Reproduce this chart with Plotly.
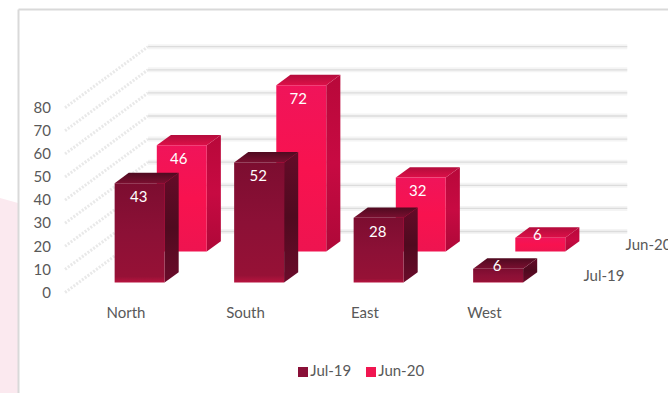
import plotly.graph_objects as go

# Chart data
regions = ["North", "South", "East", "West"]
series_names = ["Jul-19", "Jun-20"]
jul_19 = [43, 52, 28, 6]
jun_20 = [46, 72, 32, 6]
value_ticks = [0, 10, 20, 30, 40, 50, 60, 70, 80]

# Page and oblique projection set-up, in screen pixels
W, H = 668, 393
AXIS_LINE_PX = 302
PX_PER_CATEGORY = 119.5
PX_PER_VALUE = 2.31
ZERO_PX = 292.5
DEPTH_DX = 83 / PX_PER_CATEGORY          # horizontal shift for the full depth, in category units
DEPTH_DY = 61 / PX_PER_VALUE             # vertical lift for the full depth, in value units
BAR_WIDTH = 0.418
BAR_DEPTH = 0.17
SERIES_DEPTH = [0.164, 0.672]
LABEL_SHIFT = [-0.008, -0.025]
FLOOR_LEFT, FLOOR_RIGHT = -0.51, 3.5

x_min = -126 / PX_PER_CATEGORY
x_max = (W - 126) / PX_PER_CATEGORY
y_max = ZERO_PX / PX_PER_VALUE
y_min = -(H - ZERO_PX) / PX_PER_VALUE


def project(c, v, d):
    """Map category position, value and depth onto the flat axes."""
    return c + DEPTH_DX * d, v + DEPTH_DY * d


def polygon(points):
    xs, ys = zip(*[project(*p) for p in points])
    return list(xs) + [xs[0]], list(ys) + [ys[0]]


FONT = "Lato, 'Open Sans', sans-serif"
TEXT_GREY = "#595959"

# Gradient stops run from the lower edge of a face (0) to its upper edge (1)
styles = [
    dict(
        legend="#8a1038",
        front=[(0, "#b8143f"), (0.06, "#961136"), (0.5, "#8c1036"), (1, "#7c0d30")],
        side=[(0, "#6a0b2a"), (0.5, "#4f0a1f"), (1, "#640b28")],
        top=[(0, "#7a0f30"), (1, "#4f0a20")],
    ),
    dict(
        legend="#f01650",
        front=[(0, "#ee1450"), (0.5, "#f8124f"), (1, "#f0145a")],
        side=[(0, "#ae0838"), (0.5, "#c70a42"), (1, "#b8083a")],
        top=[(0, "#dc1048"), (1, "#b40c3c")],
    ),
]

fig = go.Figure()

# Side wall: dotted guide running from front to back for each tick
for v in value_ticks:
    xs, ys = zip(project(FLOOR_LEFT, v, 0), project(FLOOR_LEFT, v, 1))
    fig.add_trace(go.Scatter(
        x=xs, y=ys, mode="lines", showlegend=False, hoverinfo="skip",
        line=dict(color="#e9e9e9", width=3, dash="2px,1.5px"),
    ))

# Back wall gridlines: a soft halo under a thin grey line
for v in value_ticks:
    xs, ys = zip(project(FLOOR_LEFT, v, 1), project(FLOOR_RIGHT, v, 1))
    for colour, width in (("#f4f4f4", 5), ("#dcdcdc", 1.3)):
        fig.add_trace(go.Scatter(
            x=xs, y=ys, mode="lines", showlegend=False, hoverinfo="skip",
            line=dict(color=colour, width=width),
        ))


def add_face(points, colours):
    xs, ys = polygon(points)
    fig.add_trace(go.Scatter(
        x=xs, y=ys, mode="lines", fill="toself", showlegend=False,
        hoverinfo="skip", line=dict(width=0, color="rgba(0,0,0,0)"),
        fillgradient=dict(type="vertical", colorscale=[list(c) for c in colours]),
    ))


# Rear series first so the nearer bars overlap it
for s in (1, 0):
    values = [jul_19, jun_20][s]
    st = styles[s]
    d0 = SERIES_DEPTH[s]
    d1 = d0 + BAR_DEPTH
    for i, v in enumerate(values):
        l, r = i - BAR_WIDTH / 2, i + BAR_WIDTH / 2
        add_face([(r, 0, d0), (r, 0, d1), (r, v, d1), (r, v, d0)], st["side"])
        add_face([(l, v, d0), (r, v, d0), (r, v, d1), (l, v, d1)], st["top"])
        add_face([(l, 0, d0), (r, 0, d0), (r, v, d0), (l, v, d0)], st["front"])

# Value labels, drawn on the front faces
for s in (1, 0):
    values = [jul_19, jun_20][s]
    pts = [project(i + LABEL_SHIFT[s], v - 6.5 if v > 10 else v + 0.6, SERIES_DEPTH[s])
           for i, v in enumerate(values)]
    fig.add_trace(go.Scatter(
        x=[p[0] for p in pts], y=[p[1] for p in pts], mode="text",
        text=[str(v) for v in values], textposition="middle center",
        textfont=dict(family=FONT, size=15, color="#ffffff"),
        showlegend=False, hoverinfo="skip",
    ))

# Series names along the depth axis at the right end of the floor
depth_pts = [project(FLOOR_RIGHT + 0.155, 0, d + BAR_DEPTH / 2) for d in SERIES_DEPTH]
fig.add_trace(go.Scatter(
    x=[p[0] for p in depth_pts], y=[p[1] for p in depth_pts], mode="text",
    text=series_names, textposition="middle right", cliponaxis=False,
    textfont=dict(family=FONT, size=15, color=TEXT_GREY),
    showlegend=False, hoverinfo="skip",
))

# Key below the chart: swatch with its name close beside it
key_y = -(372 - ZERO_PX) / PX_PER_VALUE
for name, st, key_px in zip(series_names, styles, (303, 371)):
    fig.add_trace(go.Scatter(
        x=[(key_px - 126) / PX_PER_CATEGORY], y=[key_y], mode="markers+text", name=name,
        text=[name], textposition="middle right", cliponaxis=False,
        textfont=dict(family=FONT, size=15, color=TEXT_GREY),
        marker=dict(symbol="square", size=10, color=st["legend"]),
        showlegend=False,
    ))

fig.update_layout(
    width=W, height=H,
    margin=dict(l=0, r=0, t=0, b=0, pad=0),
    autosize=False,
    paper_bgcolor="#ffffff", plot_bgcolor="rgba(0,0,0,0)",
    font=dict(family=FONT, size=15, color=TEXT_GREY),
    showlegend=False,
    xaxis=dict(
        range=[x_min, x_max], tickmode="array", tickvals=list(range(len(regions))),
        ticktext=regions, showgrid=False, zeroline=False, showline=False,
        ticks="", ticklen=0, automargin=False,
        anchor="free", position=1 - AXIS_LINE_PX / H,
    ),
    yaxis=dict(
        range=[y_min, y_max], tickmode="array", tickvals=value_ticks,
        anchor="free", position=51 / W, showgrid=False, zeroline=False,
        showline=False, ticks="", ticklen=0, automargin=False,
    ),
    shapes=[
        # Tinted slide background showing to the left of the chart frame
        dict(type="path", xref="paper", yref="paper", layer="below", line=dict(width=0),
             fillcolor="#fbe9ef",
             path=f"M0,{1 - 198 / H} L{18 / W},{1 - 203 / H} L{18 / W},0 L0,0 Z"),
        # Chart frame, top and left edges
        dict(type="line", xref="paper", yref="paper", x0=18.5 / W, x1=1,
             y0=1 - 9.5 / H, y1=1 - 9.5 / H, line=dict(color="#d9d9d9", width=2)),
        dict(type="line", xref="paper", yref="paper", x0=18.5 / W, x1=18.5 / W,
             y0=1 - 9.5 / H, y1=0, line=dict(color="#d9d9d9", width=2)),
    ],
)

fig.write_html("out.html")
